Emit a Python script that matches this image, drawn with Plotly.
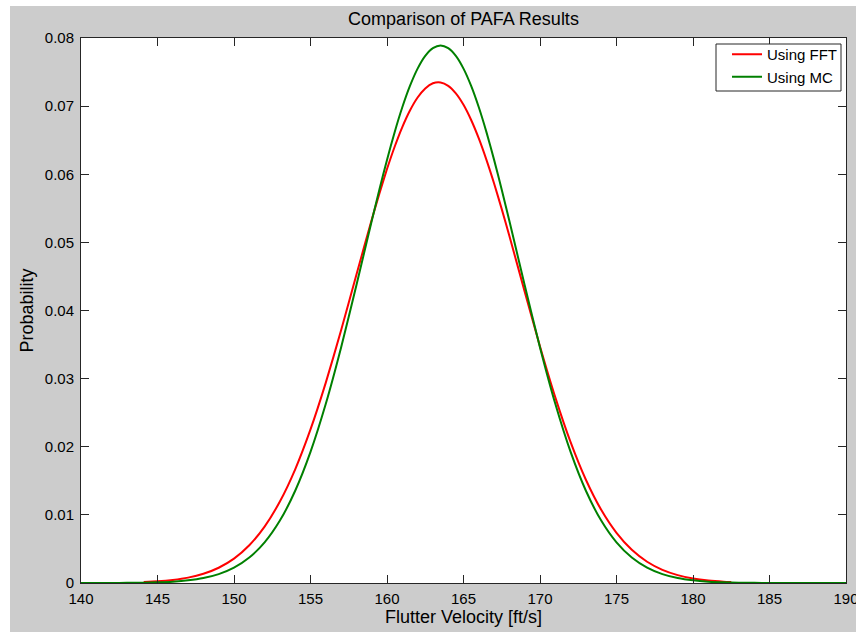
import plotly.graph_objects as go

# Flutter velocity grid [ft/s] and probability densities for the two PAFA methods
fft_velocity = [144.1, 145, 146, 147, 148, 149, 150, 151, 152, 153, 154, 155, 156, 157,
                158, 159, 159.5, 160, 160.5, 161, 161.5, 162, 162.5, 163, 163.5, 164,
                164.5, 165, 165.5, 166, 166.5, 167, 167.5, 168, 169, 170, 171,
                172, 173, 174, 175, 176, 177, 178, 179, 180, 181, 182, 182.5]
fft_probability = [0.00013, 0.00024, 0.00045, 0.00079, 0.00135, 0.00224, 0.00358, 0.00554,
                   0.00828, 0.01196, 0.01669, 0.02254, 0.02941, 0.03709, 0.04524, 0.05332,
                   0.05716, 0.06076, 0.06404, 0.06693, 0.06936, 0.07127, 0.07260, 0.07335,
                   0.07347, 0.07298, 0.07187, 0.07019, 0.06796, 0.06525, 0.06211, 0.05864,
                   0.05488, 0.05094, 0.04277, 0.03472, 0.02725, 0.02067, 0.01515, 0.01074,
                   0.00736, 0.00487, 0.00312, 0.00193, 0.00116, 0.00067, 0.00037, 0.00020,
                   0.00015]

mc_velocity = [140, 141, 142, 143, 144, 145, 146, 147, 148, 149, 150, 151, 152, 153, 154,
               155, 156, 157, 158, 159, 159.5, 160, 160.5, 161, 161.5, 162, 162.5, 163,
               163.5, 164, 164.5, 165, 165.5, 166, 166.5, 167, 167.5, 168, 169,
               170, 171, 172, 173, 174, 175, 176, 177, 178, 179, 180, 181, 182, 183, 184,
               185, 186, 187, 188, 189, 190]
mc_probability = [0.0, 0.0, 0.00001, 0.00002, 0.00005, 0.0001, 0.0002, 0.00039, 0.00072,
                  0.0013, 0.00225, 0.00373, 0.00596, 0.00916, 0.01354, 0.01924, 0.0263,
                  0.03457, 0.0437, 0.05313, 0.05773, 0.06211, 0.06618, 0.06983, 0.07297,
                  0.07551, 0.07738, 0.07851, 0.0789, 0.07851, 0.07738, 0.07551, 0.07297,
                  0.06983, 0.06618, 0.06211, 0.05773, 0.05313, 0.0437, 0.03457, 0.0263,
                  0.01924, 0.01354, 0.00916, 0.00596, 0.00373, 0.00225, 0.0013, 0.00072,
                  0.00039, 0.0002, 0.0001, 0.00005, 0.00002, 0.00001, 0.0, 0.0, 0.0, 0.0,
                  0.0]

x_ticks = [140, 145, 150, 155, 160, 165, 170, 175, 180, 185, 190]
y_ticks = [0, 0.01, 0.02, 0.03, 0.04, 0.05, 0.06, 0.07, 0.08]

FONT = "Liberation Sans, Arial, sans-serif"
AXIS_COLOR = "#262626"

fig = go.Figure()
fig.add_trace(go.Scatter(x=fft_velocity, y=fft_probability, mode="lines",
                         name="Using FFT",
                         line=dict(color="#ff0000", width=2, shape="spline", smoothing=0.6)))
fig.add_trace(go.Scatter(x=mc_velocity, y=mc_probability, mode="lines",
                         name="Using MC",
                         line=dict(color="#008000", width=2, shape="spline", smoothing=0.6)))

W, H = 856, 632
L, R, T, B = 81, 10, 38, 49
pw, ph = W - L - R, H - T - B


def px_to_paper_x(px):
    return (px - L) / pw


def px_to_paper_y(py):
    return (H - B - py) / ph


axis_common = dict(
    showgrid=False, zeroline=False, showline=True, linecolor=AXIS_COLOR, linewidth=1,
    mirror="ticks", ticks="inside", ticklen=8, tickcolor=AXIS_COLOR, tickwidth=1,
    tickfont=dict(family=FONT, size=15, color="#000000"), ticklabeloverflow="allow",
    automargin=False,
)

fig.update_layout(
    width=W, height=H,
    margin=dict(l=L, r=R, t=T, b=B, autoexpand=False),
    paper_bgcolor="#cccccc",
    plot_bgcolor="#ffffff",
    font=dict(family=FONT, color="#000000"),
    title=dict(text="Comparison of PAFA Results", x=0.5, xref="paper", xanchor="center",
               y=1 - 19 / H, yanchor="middle", font=dict(family=FONT, size=18, color="#000000")),
    xaxis=dict(range=[140, 190], tickvals=x_ticks, ticklabelstandoff=2,
               title=dict(text="Flutter Velocity [ft/s]", font=dict(family=FONT, size=18),
                          standoff=3),
               **axis_common),
    yaxis=dict(range=[0, 0.08], tickvals=y_ticks, ticklabelstandoff=3,
               title=dict(text="Probability", font=dict(family=FONT, size=18), standoff=6),
               **axis_common),
    legend=dict(x=px_to_paper_x(843), y=px_to_paper_y(38), xanchor="right", yanchor="top",
                bgcolor="rgba(0,0,0,0)", borderwidth=0,
                font=dict(family=FONT, size=15, color="#000000"),
                tracegroupgap=0),
    showlegend=True,
    shapes=[
        # white border strips along the left and top edges of the figure window
        dict(type="rect", xref="paper", yref="paper", layer="below",
             x0=px_to_paper_x(-2), x1=px_to_paper_x(10), y0=px_to_paper_y(H + 2),
             y1=px_to_paper_y(-2), fillcolor="#ffffff", line=dict(width=0)),
        dict(type="rect", xref="paper", yref="paper", layer="below",
             x0=px_to_paper_x(-2), x1=px_to_paper_x(W + 2), y0=px_to_paper_y(6),
             y1=px_to_paper_y(-2), fillcolor="#ffffff", line=dict(width=0)),
        # legend frame
        dict(type="rect", xref="paper", yref="paper", layer="above",
             x0=px_to_paper_x(716), x1=px_to_paper_x(841), y0=px_to_paper_y(91),
             y1=px_to_paper_y(44), fillcolor="#ffffff", line=dict(color=AXIS_COLOR, width=1)),
    ],
)

fig.write_html("out.html")
